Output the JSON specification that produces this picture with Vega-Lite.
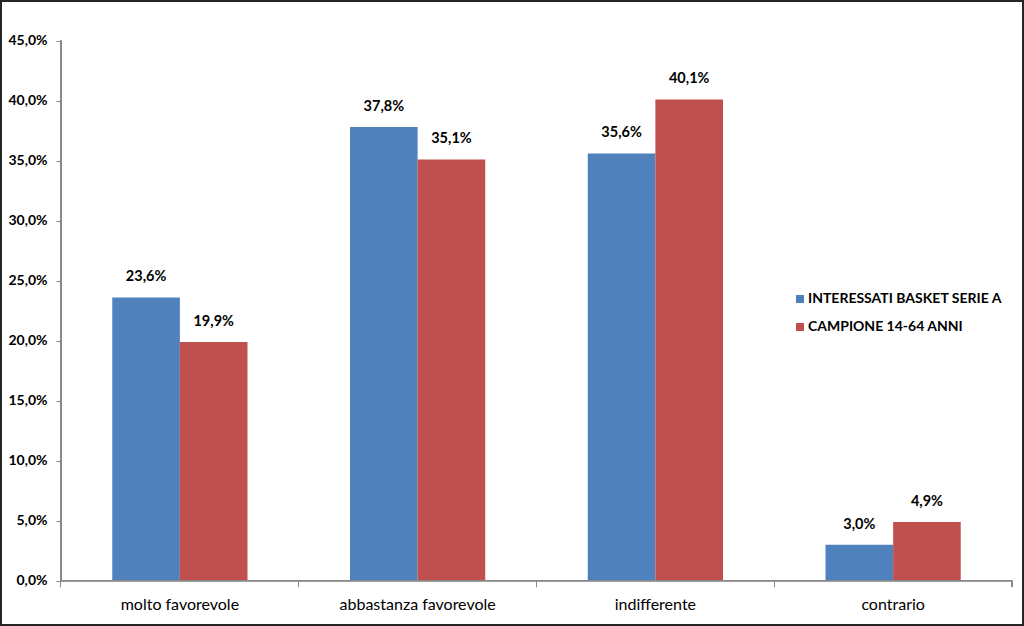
{
  "$schema": "https://vega.github.io/schema/vega-lite/v6.json",
  "width": 1022,
  "height": 624,
  "autosize": {"type": "none"},
  "padding": 1,
  "background": "white",
  "config": {
    "locale": {"number": {"decimal": ",", "thousands": ".", "grouping": [3], "currency": ["", " €"]}},
    "view": {"stroke": "#262626", "strokeWidth": 2, "fill": "white"},
    "font": "Lato"
  },
  "data": {
    "values": [
      {"categoria": "molto favorevole", "serie": "INTERESSATI BASKET SERIE A", "valore": 0.236},
      {"categoria": "molto favorevole", "serie": "CAMPIONE 14-64 ANNI", "valore": 0.199},
      {"categoria": "abbastanza favorevole", "serie": "INTERESSATI BASKET SERIE A", "valore": 0.378},
      {"categoria": "abbastanza favorevole", "serie": "CAMPIONE 14-64 ANNI", "valore": 0.351},
      {"categoria": "indifferente", "serie": "INTERESSATI BASKET SERIE A", "valore": 0.356},
      {"categoria": "indifferente", "serie": "CAMPIONE 14-64 ANNI", "valore": 0.401},
      {"categoria": "contrario", "serie": "INTERESSATI BASKET SERIE A", "valore": 0.03},
      {"categoria": "contrario", "serie": "CAMPIONE 14-64 ANNI", "valore": 0.049}
    ]
  },
  "layer": [
    {
      "mark": {"type": "bar"},
      "encoding": {
        "x": {
          "field": "categoria", "type": "nominal",
          "scale": {"domain": ["molto favorevole", "abbastanza favorevole", "indifferente", "contrario"], "paddingInner": 0, "paddingOuter": 0.149316, "align": 0.84507, "round": false},
          "axis": {"orient": "bottom", "offset": -44.3, "domain": false, "bandPosition": 0, "tickSize": 6, "tickColor": "#888888", "tickWidth": 1, "labelPadding": 10, "labelFont": "Lato", "labelFontSize": 16, "labelColor": "#000000", "labelAngle": 0, "title": null, "grid": false}
        },
        "xOffset": {
          "field": "serie", "type": "nominal",
          "scale": {"domain": ["INTERESSATI BASKET SERIE A", "CAMPIONE 14-64 ANNI"], "paddingInner": 0, "paddingOuter": 0.758, "round": false}
        },
        "y": {
          "field": "valore", "type": "quantitative",
          "scale": {"domain": [-0.036917, 0.48308], "nice": false, "zero": false},
          "axis": {"orient": "left", "offset": -60, "domain": false, "values": [0, 0.05, 0.1, 0.15, 0.2, 0.25, 0.3, 0.35, 0.4, 0.45], "format": ".1%", "tickSize": 5, "tickColor": "#888888", "labelPadding": 9, "labelFont": "Lato", "labelFontSize": 14, "labelFontWeight": "bold", "labelColor": "#000000", "grid": false, "title": null}
        },
        "y2": {"datum": 0},
        "color": {
          "field": "serie", "type": "nominal",
          "scale": {"domain": ["INTERESSATI BASKET SERIE A", "CAMPIONE 14-64 ANNI"], "range": ["#4F81BD", "#C0504D"]},
          "legend": {"orient": "none", "legendX": 792, "legendY": 291, "title": null, "symbolType": "square", "symbolSize": 64, "symbolStrokeWidth": 0, "symbolOpacity": 1, "labelFont": "Lato", "labelFontSize": 14, "labelFontWeight": "bold", "labelColor": "#000000", "labelOffset": 1, "rowPadding": 14, "padding": 0, "labelLimit": 400}
        }
      }
    },
    {
      "mark": {"type": "text", "baseline": "alphabetic", "dy": -16, "fontSize": 14.5, "fontWeight": "bold", "font": "Lato", "color": "#000000"},
      "encoding": {
        "x": {"field": "categoria", "type": "nominal"},
        "xOffset": {"field": "serie", "type": "nominal"},
        "y": {"field": "valore", "type": "quantitative"},
        "text": {"field": "valore", "type": "quantitative", "format": ".1%"}
      }
    },
    {
      "mark": {"type": "rule", "color": "#888888", "strokeWidth": 1},
      "encoding": {
        "x": {"datum": "molto favorevole", "type": "nominal", "bandPosition": 0},
        "y": {"datum": 0, "type": "quantitative"},
        "y2": {"datum": 0.45}
      }
    },
    {
      "mark": {"type": "rule", "color": "#888888", "strokeWidth": 1},
      "encoding": {
        "x": {"datum": "molto favorevole", "type": "nominal", "bandPosition": 0},
        "x2": {"datum": "contrario", "bandPosition": 1},
        "y": {"datum": 0, "type": "quantitative"}
      }
    },
    {
      "mark": {"type": "rule", "color": "#888888", "strokeWidth": 1},
      "encoding": {
        "x": {"datum": "contrario", "type": "nominal", "bandPosition": 1},
        "y": {"datum": 0, "type": "quantitative"},
        "y2": {"datum": -0.005}
      }
    }
  ]
}
